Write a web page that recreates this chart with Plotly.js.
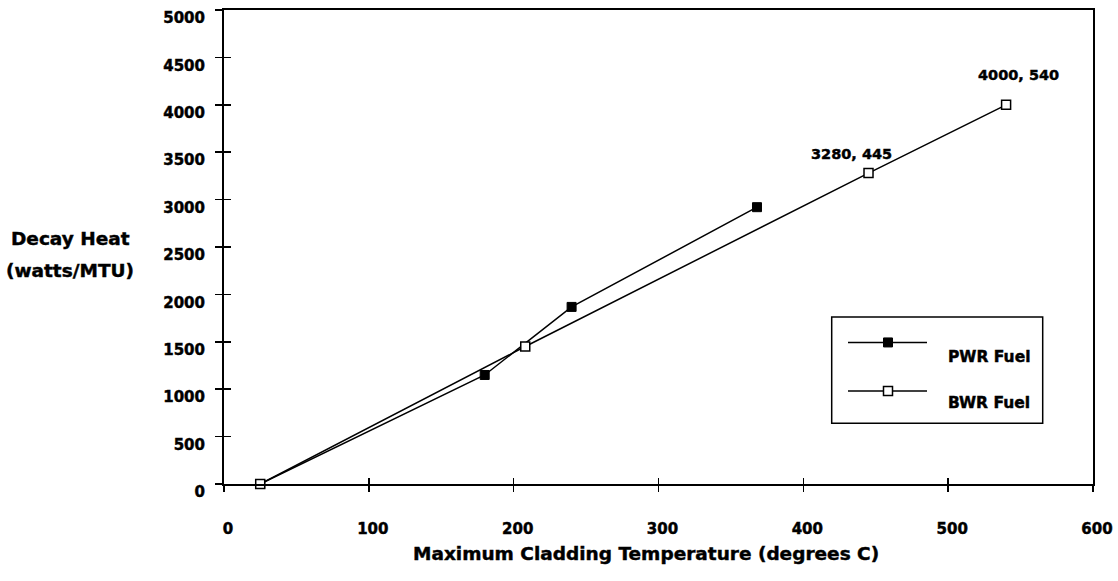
<!DOCTYPE html>
<html>
<head>
<meta charset="utf-8">
<script src="https://cdn.plot.ly/plotly-3.0.1.min.js"></script>
<style>
html,body{margin:0;padding:0;background:#fff;}
#chart{width:1118px;height:581px;}
#chart svg text{stroke:#000;stroke-width:0.45px;}
</style>
</head>
<body>
<div id="chart"></div>
<script>
// ---- data ----
var pwrTemp = [25, 180, 240, 368];
var pwrHeat = [0, 1150, 1868, 2920];
var bwrTemp = [25, 208, 445, 540];
var bwrHeat = [0, 1450, 3280, 4000];
var seriesNames = ["PWR Fuel", "BWR Fuel"];
var xTickVals = [0, 100, 200, 300, 400, 500, 600];
var yTickVals = [0, 500, 1000, 1500, 2000, 2500, 3000, 3500, 4000, 4500, 5000];
var pointLabels = [
  {x: 445, y: 3280, text: "3280, 445", dx: -17, dy: 19},
  {x: 540, y: 4000, text: "4000, 540", dx: 12, dy: 30}
];
var yTitleLines = ["Decay Heat", "(watts/MTU)"];
var xTitle = "Maximum Cladding Temperature (degrees C)";

// ---- geometry ----
var W = 1118, H = 581;
var L = 224, R = 1093, T = 9.5, B = 484;
function px(p){ return (p - L) / (R - L); }
function py(p){ return (B - p) / (B - T); }

var FONT = "DejaVu Sans";
function f(size){ return {family: FONT, size: size, color: "#000", weight: "bold"}; }

var traces = [
  {x: pwrTemp, y: pwrHeat, name: seriesNames[0], mode: "lines+markers", type: "scatter",
   line: {color: "#000", width: 1.5},
   marker: {symbol: "square", size: 9, color: "#000", line: {color: "#000", width: 1}},
   showlegend: false, cliponaxis: false},
  {x: bwrTemp, y: bwrHeat, name: seriesNames[1], mode: "lines+markers", type: "scatter",
   line: {color: "#000", width: 1.5},
   marker: {symbol: "square", size: 9, color: "#fff", line: {color: "#000", width: 1.5}},
   showlegend: false, cliponaxis: false},
  {x: [], y: [], xaxis: "x2", yaxis: "y2", showlegend: false, type: "scatter"}
];

var annotations = pointLabels.map(function(p){
  return {x: p.x, y: p.y, xref: "x", yref: "y", text: p.text, showarrow: false,
          xshift: p.dx, yshift: p.dy, font: f(14.5)};
});
annotations.push({x: px(70), y: py(238.5), xref: "paper", yref: "paper", text: yTitleLines[0],
  showarrow: false, xanchor: "center", yanchor: "middle", font: f(18.5)});
annotations.push({x: px(70), y: py(270), xref: "paper", yref: "paper", text: yTitleLines[1],
  showarrow: false, xanchor: "center", yanchor: "middle", font: f(18.5)});
annotations.push({x: px(646), y: py(554), xref: "paper", yref: "paper", text: xTitle,
  showarrow: false, xanchor: "center", yanchor: "middle", font: f(18.5)});
// legend text
annotations.push({x: px(946), y: py(356.5), xref: "paper", yref: "paper", text: seriesNames[0],
  showarrow: false, xanchor: "left", yanchor: "middle", font: f(15.5)});
annotations.push({x: px(946), y: py(402.5), xref: "paper", yref: "paper", text: seriesNames[1],
  showarrow: false, xanchor: "left", yanchor: "middle", font: f(15.5)});

var shapes = [
  // legend box
  {type: "rect", xref: "paper", yref: "paper", x0: px(831.7), x1: px(1042.7), y0: py(423.3), y1: py(316.7),
   line: {color: "#000", width: 1.5}, fillcolor: "rgba(0,0,0,0)"},
  // legend lines
  {type: "line", xref: "paper", yref: "paper", x0: px(848), x1: px(927), y0: py(342.3), y1: py(342.3),
   line: {color: "#000", width: 1.5}},
  {type: "line", xref: "paper", yref: "paper", x0: px(848), x1: px(927), y0: py(391), y1: py(391),
   line: {color: "#000", width: 1.5}},
  // legend markers
  {type: "rect", xref: "paper", yref: "paper", xsizemode: "pixel", ysizemode: "pixel",
   xanchor: px(888), yanchor: py(342.3), x0: -4.5, x1: 4.5, y0: -4.5, y1: 4.5,
   line: {color: "#000", width: 1}, fillcolor: "#000"},
  {type: "rect", xref: "paper", yref: "paper", xsizemode: "pixel", ysizemode: "pixel",
   xanchor: px(888), yanchor: py(391), x0: -4.5, x1: 4.5, y0: -4.5, y1: 4.5,
   line: {color: "#000", width: 1.5}, fillcolor: "#fff"}
];

var layout = {
  width: W, height: H,
  margin: {l: L, r: W - R, t: T, b: H - B, pad: 0},
  paper_bgcolor: "#fff", plot_bgcolor: "#fff",
  showlegend: false,
  font: f(15),
  xaxis: {range: [0, 600], tickvals: xTickVals, ticks: "outside", ticklen: 6, tickwidth: 1.5,
          tickcolor: "#000", showline: true, linecolor: "#000", linewidth: 2, mirror: true,
          showgrid: false, zeroline: false, tickfont: f(15), ticklabelstandoff: 24,
          ticklabelshift: 4, fixedrange: true},
  yaxis: {range: [0, 5000], tickvals: yTickVals, ticks: "outside", ticklen: 7, tickwidth: 1.5,
          tickcolor: "#000", showline: true, linecolor: "#000", linewidth: 2, mirror: true,
          showgrid: false, zeroline: false, tickfont: f(15), ticklabelstandoff: 7,
          ticklabelshift: 8, fixedrange: true},
  xaxis2: {range: [0, 600], tickvals: xTickVals, overlaying: "x", anchor: "y2", ticks: "inside",
           ticklen: 6, tickwidth: 1.5, tickcolor: "#000", showticklabels: false, showline: false,
           showgrid: false, zeroline: false, fixedrange: true},
  yaxis2: {range: [0, 5000], tickvals: yTickVals, overlaying: "y", anchor: "x2", ticks: "inside",
           ticklen: 7, tickwidth: 1.5, tickcolor: "#000", showticklabels: false, showline: false,
           showgrid: false, zeroline: false, fixedrange: true},
  annotations: annotations,
  shapes: shapes
};

Plotly.newPlot("chart", traces, layout, {displayModeBar: false, staticPlot: true});
</script>
</body>
</html>
